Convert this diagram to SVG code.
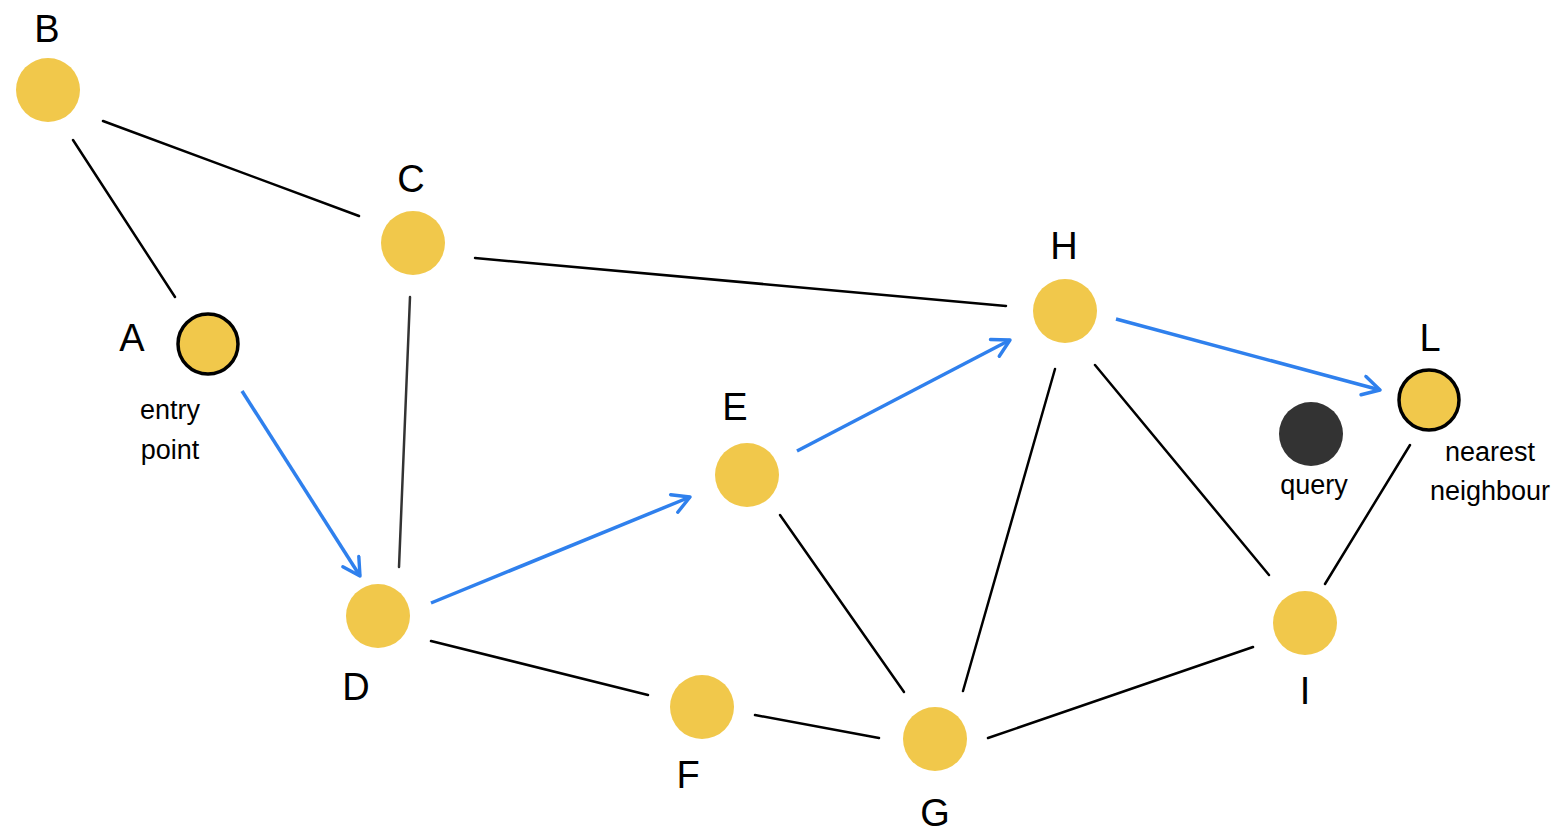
<svg xmlns="http://www.w3.org/2000/svg" width="1558" height="840" viewBox="0 0 1558 840">
<defs>
<style>
.node{fill:#f1c84b}
.sel{stroke:#000;stroke-width:3.5}
.q{fill:#333333}
.edge{stroke:#000;stroke-width:2.5;fill:none;stroke-linecap:round}
.path{stroke:#2f80ed;stroke-width:3.5;fill:none;marker-end:url(#ah)}
.lbl{font-family:"Liberation Sans","DejaVu Sans",sans-serif;font-size:38px;fill:#000;text-anchor:middle}
.note{font-family:"Liberation Sans","DejaVu Sans",sans-serif;font-size:27px;fill:#000;text-anchor:middle}
</style>
<marker id="ah" viewBox="0 0 12 12" refX="10" refY="6" markerWidth="6.5" markerHeight="6.5" orient="auto" markerUnits="strokeWidth">
<path d="M1,1 L10,6 L1,11" fill="none" stroke="#2f80ed" stroke-width="1.8" stroke-linecap="round" stroke-linejoin="round"/>
</marker>
</defs>
<rect width="1558" height="840" fill="#ffffff"/>
<g id="connectors">
<line class="edge" x1="103" y1="121" x2="359" y2="216"/>
<line class="edge" x1="73" y1="140" x2="175" y2="297"/>
<line class="edge" x1="410" y1="297" x2="399" y2="567" style="stroke:#333"/>
<line class="edge" x1="475" y1="258" x2="1006" y2="306"/>
<line class="edge" x1="1055" y1="369" x2="963" y2="691"/>
<line class="edge" x1="1095" y1="365" x2="1269" y2="575"/>
<line class="edge" x1="780" y1="515" x2="904" y2="692"/>
<line class="edge" x1="431" y1="641" x2="648" y2="695"/>
<line class="edge" x1="755" y1="715" x2="879" y2="738"/>
<line class="edge" x1="988" y1="738" x2="1253" y2="647"/>
<line class="edge" x1="1410" y1="445" x2="1325" y2="584"/>
<line class="path" x1="242" y1="391" x2="360" y2="576"/>
<line class="path" x1="431" y1="603" x2="690" y2="497"/>
<line class="path" x1="797" y1="451" x2="1010" y2="340"/>
<line class="path" x1="1116" y1="319" x2="1380" y2="390"/>
</g>
<g id="node-B"><circle class="node" cx="48" cy="90" r="32"/><text class="lbl" x="47" y="42">B</text></g>
<g id="node-C"><circle class="node" cx="413" cy="243" r="32"/><text class="lbl" x="411" y="192">C</text></g>
<g id="node-A"><circle class="node sel" cx="208" cy="344" r="30"/><text class="lbl" x="132" y="351">A</text>
<text class="note" x="170" y="419">entry</text><text class="note" x="170" y="459">point</text></g>
<g id="node-H"><circle class="node" cx="1065" cy="311" r="32"/><text class="lbl" x="1064" y="259">H</text></g>
<g id="node-L"><circle class="node sel" cx="1429" cy="400" r="30"/><text class="lbl" x="1430" y="351">L</text>
<text class="note" x="1490" y="461">nearest</text><text class="note" x="1490" y="500">neighbour</text></g>
<g id="node-query"><circle class="q" cx="1311" cy="434" r="32"/><text class="note" x="1314" y="494">query</text></g>
<g id="node-E"><circle class="node" cx="747" cy="475" r="32"/><text class="lbl" x="735" y="420">E</text></g>
<g id="node-D"><circle class="node" cx="378" cy="616" r="32"/><text class="lbl" x="356" y="700">D</text></g>
<g id="node-I"><circle class="node" cx="1305" cy="623" r="32"/><text class="lbl" x="1305" y="704">I</text></g>
<g id="node-F"><circle class="node" cx="702" cy="707" r="32"/><text class="lbl" x="688" y="788">F</text></g>
<g id="node-G"><circle class="node" cx="935" cy="739" r="32"/><text class="lbl" x="935" y="826">G</text></g>
</svg>
